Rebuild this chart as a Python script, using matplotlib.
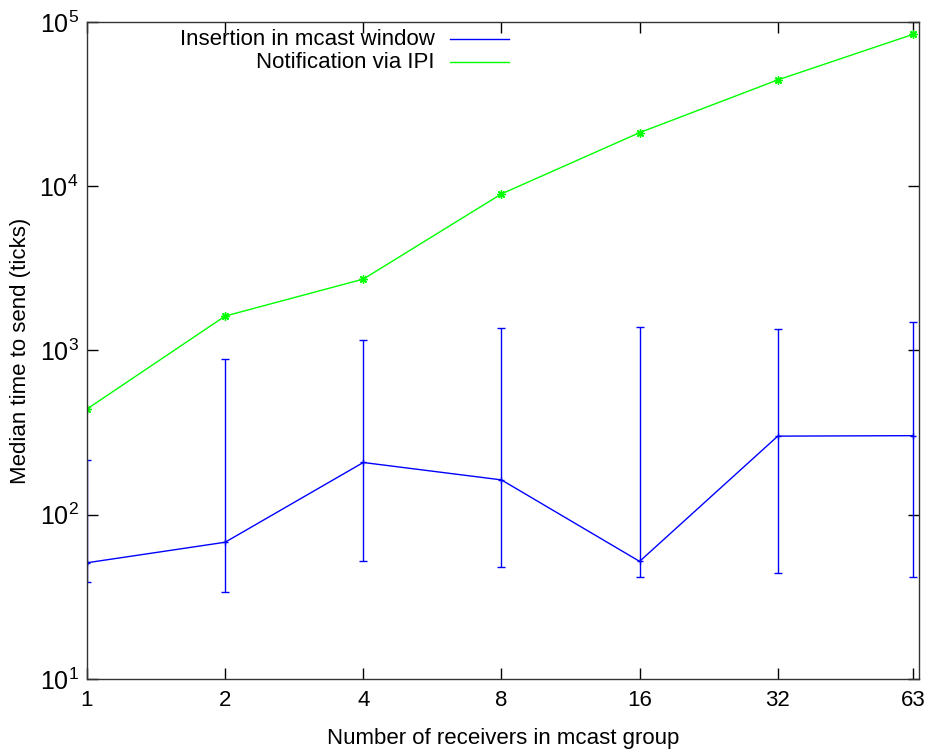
import matplotlib
matplotlib.use("Agg")
import matplotlib.pyplot as plt
from matplotlib.ticker import FixedLocator, NullLocator, LogFormatterMathtext

plt.rcParams['font.family'] = ['Liberation Sans', 'DejaVu Sans']
plt.rcParams['mathtext.fontset'] = 'custom'
plt.rcParams['mathtext.rm'] = 'Liberation Sans'
plt.rcParams['mathtext.it'] = 'Liberation Sans:italic'
plt.rcParams['font.size'] = 16

receivers = [1, 2, 4, 8, 16, 32, 63]
tick_labels = ['1', '2', '4', '8', '16', '32', '63']

# insertion in mcast window: median with low/high range
insert_median = [51, 68, 208, 163, 52, 301, 303]
insert_low = [39, 34, 52, 48, 42, 44, 42]
insert_high = [214, 888, 1164, 1377, 1396, 1352, 1487]

# notification via IPI
ipi_median = [440, 1620, 2720, 8980, 21200, 44400, 84000]

fig = plt.figure(figsize=(9.3, 7.53), dpi=100)
ax = fig.add_axes([0.0935, 0.0983, 0.8947, 0.8725])

err_lo = [m - lo for m, lo in zip(insert_median, insert_low)]
err_hi = [hi - m for m, hi in zip(insert_median, insert_high)]
ax.errorbar(receivers, insert_median, yerr=[err_lo, err_hi], color='#0000ff',
            lw=1, elinewidth=1, capsize=3, capthick=1, marker='+', ms=5, mew=1)
ax.plot(receivers, ipi_median, color='#00ff00', lw=1, marker=(8, 2, 0), ms=6, mew=1)

ax.set_xscale('log', base=2)
ax.set_yscale('log')
ax.set_xlim(1, 65)
ax.set_ylim(10, 1e5)
ax.xaxis.set_major_locator(FixedLocator(receivers))
ax.set_xticklabels(tick_labels)
ax.xaxis.set_minor_locator(NullLocator())
ax.yaxis.set_major_locator(FixedLocator([10, 100, 1000, 10000, 100000]))
ax.yaxis.set_major_formatter(LogFormatterMathtext())
ax.yaxis.set_minor_locator(NullLocator())

ax.tick_params(direction='in', length=8, width=1, top=True, right=True,
               labelsize=16, pad=8, colors='black')
ax.tick_params(axis='y', labelsize=18, pad=6)
for s in ax.spines.values():
    s.set_linewidth(1)
    s.set_color('#333333')

ax.set_xlabel('Number of receivers in mcast group', fontsize=16, labelpad=12)
ax.set_ylabel('Median time to send (ticks)', fontsize=16, labelpad=6)

# gnuplot-style key: right-aligned text with line sample after it
key = [('Insertion in mcast window', '#0000ff', 0.974),
       ('Notification via IPI', '#00ff00', 0.939)]
for label, col, yy in key:
    ax.text(0.418, yy, label, transform=ax.transAxes, ha='right', va='center', fontsize=16)
    ax.plot([0.436, 0.507], [yy, yy], transform=ax.transAxes, color=col, lw=1, clip_on=False)

fig.savefig('out.png', dpi=100)
